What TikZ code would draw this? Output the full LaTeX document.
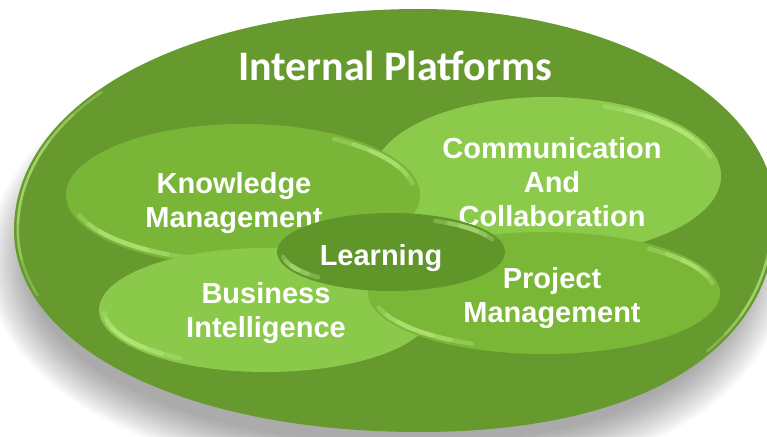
\documentclass[tikz,border=0pt]{standalone}
\usepackage{fontspec}
\setmainfont{Liberation Sans}
\newfontfamily\headfont{Carlito}
\usetikzlibrary{shapes.geometric}

\definecolor{platgreen}{HTML}{669A2E}
\definecolor{kmgreen}{HTML}{79B637}
\definecolor{ccgreen}{HTML}{8CCA4B}
\definecolor{bigreen}{HTML}{8AC94A}
\definecolor{pmgreen}{HTML}{7AB737}
\definecolor{learngreen}{HTML}{60952A}
\definecolor{glintgreen}{HTML}{C4F28C}
\definecolor{rimgreen}{HTML}{B2DE7C}

\tikzset{
  disc/.style={ellipse, inner sep=0pt, outer sep=0pt},
  lbl/.style={text=white, align=center, font=\bfseries\fontsize{29}{34}\selectfont},
  glint/.style={glintgreen, line width=4.5pt, opacity=0.3, line cap=round},
  rim/.style={rimgreen, line width=2.5pt, opacity=0.4},
}

% outline of the big platform, centred on (0,0)
\newcommand\platformshape{(-381,-9) .. controls (-381,119) and (-210,212) .. (25,212)
  .. controls (222,212) and (381,120) .. (381,6)
  .. controls (381,-129) and (246,-211) .. (25,-211)
  .. controls (-210,-211) and (-381,-126) .. cycle}

% light bevel along part of an ellipse: node, x radius, y radius, from, to
\newcommand\shine[5]{%
  \foreach \cut in {0,8,16}{
    \draw[glint] ([shift={({#4+\cut}:#2 and #3)}]#1.center)
      arc[start angle=#4+\cut, end angle=#5-\cut, x radius=#2, y radius=#3];
  }}

\begin{document}
\begin{tikzpicture}[x=1pt, y=1pt]
  \useasboundingbox (0,0) rectangle (767,-436);
  \clip (0,0) rectangle (767,-436);

  % soft shadow under the platform
  \begin{scope}[shift={(389,-253)}]
    \foreach \g in {-8,...,8}{
      \pgfmathsetmacro\sx{1+\g*2.5/381}
      \pgfmathsetmacro\sy{1+\g*2.5/212}
      \fill[black, opacity=0.024, xscale=\sx, yscale=\sy] \platformshape;
    }
  \end{scope}

  % the platform
  \begin{scope}[shift={(395,-221)}]
    \fill[platgreen] \platformshape;
    % rim light, left and lower right
    \foreach \r in {45,80,115}{
      \begin{scope}
        \clip (-365,40) circle (\r);
        \draw[rim, xscale=0.99, yscale=0.985] \platformshape;
      \end{scope}
      \begin{scope}
        \clip (365,-70) circle (\r*0.7);
        \draw[rim, xscale=0.99, yscale=0.985] \platformshape;
      \end{scope}
    }
  \end{scope}

  \node[text=white, anchor=base, font=\headfont\bfseries\fontsize{42}{50}\selectfont]
    (title) at (395,-80) {Internal Platforms};

  % Communication and collaboration
  \node[disc, fill=ccgreen, minimum width=348pt, minimum height=158pt] (cc) at (547,-176) {};
  \shine{cc}{169}{74}{15}{70}
  \node[lbl] (cctext) at (552,-182) {Communication\\And\\Collaboration};

  % Knowledge management
  \node[disc, fill=kmgreen, minimum width=354pt, minimum height=142pt] (km) at (243,-195) {};
  \shine{km}{172}{66}{10}{58}
  \shine{km}{172}{66}{198}{252}
  \node[lbl] (kmtext) at (234,-203) {Knowledge\\Management};

  % Business intelligence
  \node[disc, fill=bigreen, minimum width=334pt, minimum height=124pt] (bi) at (266,-310) {};
  \shine{bi}{162}{57}{183}{238}
  \node[lbl] (bitext) at (266,-313) {Business\\Intelligence};

  % Project management
  \node[disc, fill=pmgreen, minimum width=352pt, minimum height=122pt] (pm) at (544,-293) {};
  \shine{pm}{171}{56}{10}{52}
  \shine{pm}{171}{56}{195}{245}
  \node[lbl] (pmtext) at (552,-298) {Project\\Management};

  % Learning sits on top of everything
  \node[disc, fill=learngreen, minimum width=228pt, minimum height=78pt] (learn) at (391,-252) {};
  \shine{learn}{109}{34}{22}{66}
  \shine{learn}{109}{34}{188}{228}
  \node[lbl] (learntext) at (381,-258) {Learning};
\end{tikzpicture}
\end{document}
